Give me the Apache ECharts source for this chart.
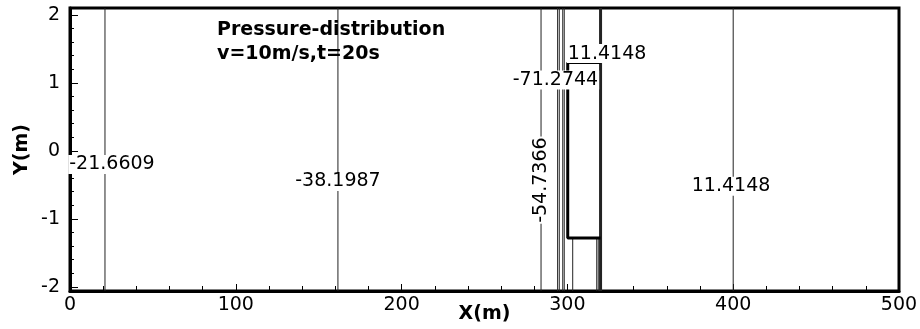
<!DOCTYPE html>
<html>
<head>
<meta charset="utf-8">
<script src="https://cdn.jsdelivr.net/npm/echarts@6/dist/echarts.min.js"></script>
<style>
    html, body { margin: 0; padding: 0; background: #fff; }
    #chart { width: 920px; height: 329px; }
</style>
</head>
<body>
<div id="chart"></div>
<script>
// Axis ranges and ticks
const X_MIN = 0, X_MAX = 500;
const Y_MIN = -2.06, Y_MAX = 2.1;
const yMajorTicks = [-2, -1, 0, 1, 2];
const yMinorTicks = [-2, -1.8, -1.6, -1.4, -1.2, -1, -0.8, -0.6, -0.4, -0.2, 0,
    0.2, 0.4, 0.6, 0.8, 1, 1.2, 1.4, 1.6, 1.8, 2];

// Contour lines running the full height of the domain
const fullLineX = [21.1, 161.6, 284.1, 294.1, 295.1, 297.2, 298.1, 400];
// Short contour pieces below the body (from body bottom down to the axis)
const lowerLineX = [303.2, 317.7, 318.6];
const lowerLineTop = [-1.28, -1.28, -1.28];
// Body outline (thick)
const bodyX = [320, 300.2, 300.2, 320];
const bodyY = [1.3, 1.3, -1.28, -1.28];
const bodyStemX = 320;

// Contour level labels
const labelText = ['-21.6609', '-38.1987', '-54.7366', '-71.2744', '11.4148', '11.4148'];
const labelX = [25.3, 161.6, 284.1, 292.8, 323.9, 398.7];
const labelY = [-0.2, -0.45, -0.43, 1.04, 1.43, -0.52];
const labelRotate = [0, 0, 90, 0, 0, 0];

const FONT = 'DejaVu Sans';

function vline(x, y0, y1, width) {
    return {
        type: 'line',
        data: [[x, y0], [x, y1]],
        symbol: 'none',
        silent: true,
        lineStyle: { color: '#222', width: width },
        z: 2
    };
}

const series = [];
fullLineX.forEach(x => series.push(vline(x, Y_MIN, Y_MAX, 1)));
lowerLineX.forEach((x, i) => series.push(vline(x, lowerLineTop[i], Y_MIN, 1)));
series.push(vline(bodyStemX, Y_MIN, Y_MAX, 3));
series.push({
    type: 'line',
    data: bodyX.map((x, i) => [x, bodyY[i]]),
    symbol: 'none',
    silent: true,
    lineStyle: { color: '#000', width: 3 },
    z: 3
});
series.push({
    type: 'scatter',
    symbolSize: 0,
    silent: true,
    z: 5,
    data: labelText.map((t, i) => ({
        value: [labelX[i], labelY[i]],
        label: {
            show: true,
            position: 'inside',
            formatter: t,
            rotate: labelRotate[i],
            fontFamily: FONT,
            fontSize: 19,
            color: '#000',
            opacity: 1,
            backgroundColor: '#fff',
            padding: [0, 1]
        }
    }))
});

const chart = echarts.init(document.getElementById('chart'));
chart.setOption({
    animation: false,
    title: {
        text: 'Pressure-distribution\nv=10m/s,t=20s',
        left: 217,
        top: 18,
        padding: 0,
        textStyle: { fontFamily: FONT, fontSize: 19, fontWeight: 'bold', color: '#000', lineHeight: 24 }
    },
    grid: {
        left: 70, right: 21, top: 8, bottom: 38,
        outerBoundsMode: 'none', containLabel: false,
        show: true, borderColor: '#000', borderWidth: 3, backgroundColor: 'transparent'
    },
    xAxis: {
        type: 'value',
        min: X_MIN, max: X_MAX, interval: 100,
        name: 'X(m)', nameLocation: 'middle', nameGap: 14, nameMoveOverlap: false,
        nameTextStyle: { fontFamily: FONT, fontSize: 19, fontWeight: 'bold', color: '#000' },
        axisLine: { onZero: false, lineStyle: { color: '#000', width: 3 } },
        axisTick: { inside: true, length: 7, lineStyle: { color: '#000', width: 1 } },
        minorTick: { show: true, splitNumber: 5, length: 5, lineStyle: { color: '#000', width: 1 } },
        axisLabel: { fontFamily: FONT, fontSize: 19, color: '#000', margin: 5 },
        splitLine: { show: false }
    },
    yAxis: [{
        type: 'value',
        min: Y_MIN, max: Y_MAX,
        name: 'Y(m)', nameLocation: 'middle', nameGap: 38, nameMoveOverlap: false,
        nameTextStyle: { fontFamily: FONT, fontSize: 19, fontWeight: 'bold', color: '#000' },
        axisLine: { onZero: false, lineStyle: { color: '#000', width: 3 } },
        axisTick: { inside: true, length: 8, customValues: yMajorTicks, lineStyle: { color: '#000', width: 1 } },
        axisLabel: { fontFamily: FONT, fontSize: 19, color: '#000', margin: 10, customValues: yMajorTicks },
        splitLine: { show: false }
    }, {
        type: 'value',
        position: 'left',
        min: Y_MIN, max: Y_MAX,
        axisLine: { show: false, onZero: false },
        axisTick: { inside: true, length: 4, customValues: yMinorTicks, lineStyle: { color: '#000', width: 1 } },
        axisLabel: { show: false },
        splitLine: { show: false }
    }],
    series: series
});
</script>
</body>
</html>
